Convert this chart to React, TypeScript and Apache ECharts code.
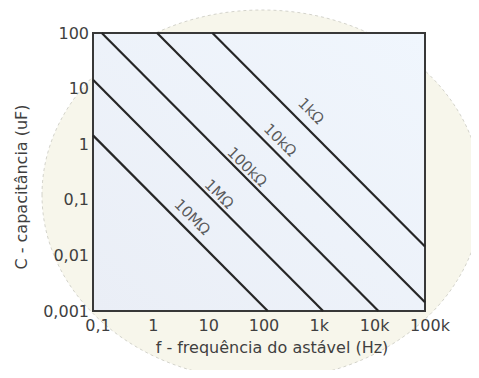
import React, { useEffect, useRef } from "react";
import * as echarts from "echarts";

// Axis tick labels (decades)
const xTickLabels = ["0,1", "1", "10", "100", "1k", "10k", "100k"];
const yTickLabels = ["0,001", "0,01", "0,1", "1", "10", "100"];

// Resistance lines: endpoints [frequency Hz, capacitance uF]
const line1k = [[14.4, 100], [100000, 0.0144]];
const line10k = [[1.44, 100], [100000, 0.00144]];
const line100k = [[0.144, 100], [14400, 0.001]];
const line1M = [[0.1, 14.4], [1440, 0.001]];
const line10M = [[0.1, 1.44], [144, 0.001]];

// Line labels: [frequency, capacitance, text]
const lineLabels = [
  [870, 3.95, "1kΩ"],
  [240, 1.19, "10kΩ"],
  [61, 0.39, "100kΩ"],
  [19, 0.127, "1MΩ"],
  [6.2, 0.049, "10MΩ"],
];

const FONT = "DejaVu Sans";

export default function App() {
  const ref = useRef<HTMLDivElement>(null);
  useEffect(() => {
    const chart = echarts.init(ref.current!, null, { renderer: "svg" });
    const lineStyle = { color: "#262626", width: 2.2 };
    const mkLine = (data: number[][]) => ({
      type: "line",
      data,
      symbol: "none",
      lineStyle,
      silent: true,
      z: 3,
    });
    chart.setOption({
      animation: false,
      backgroundColor: "#ffffff",
      graphic: [
        {
          type: "ellipse",
          z: -100,
          shape: { cx: 262, cy: 195, rx: 220, ry: 185 },
          style: { fill: "#f7f6eb", stroke: "#c9c9c0", lineWidth: 0.8, lineDash: [3, 3] },
          silent: true,
        },
      ],
      grid: {
        left: 93,
        top: 33,
        width: 332,
        height: 278,
        show: true,
        borderColor: "#383838",
        borderWidth: 2,
        backgroundColor: new echarts.graphic.LinearGradient(1, 0, 0, 1, [
          { offset: 0, color: "#f0f6fd" },
          { offset: 1, color: "#eaeef6" },
        ]),
      },
      xAxis: {
        type: "log",
        logBase: 10,
        min: 0.1,
        max: 100000,
        splitNumber: 6,
        name: "f - frequência do astável (Hz)",
        nameLocation: "middle",
        nameGap: 28,
        nameTextStyle: { fontFamily: FONT, fontSize: 16, color: "#3f3f3f", padding: [0, 0, 0, 26] },
        axisLine: { show: true, lineStyle: { color: "#383838", width: 2 } },
        axisTick: { show: false },
        splitLine: { show: false },
        minorTick: { show: false },
        axisLabel: {
          fontFamily: FONT,
          fontSize: 16,
          color: "#3f3f3f",
          margin: 6,
          padding: [0, 0, 0, 10],
          formatter: (v: number) => xTickLabels[Math.round(Math.log10(v)) + 1] ?? "",
        },
      },
      yAxis: {
        type: "log",
        logBase: 10,
        min: 0.001,
        max: 100,
        splitNumber: 5,
        name: "C - capacitância (uF)",
        nameLocation: "middle",
        nameGap: 64,
        nameTextStyle: { fontFamily: FONT, fontSize: 16, color: "#3f3f3f", padding: [0, 30, 0, 0] },
        axisLine: { show: true, lineStyle: { color: "#383838", width: 2 } },
        axisTick: { show: false },
        splitLine: { show: false },
        axisLabel: {
          fontFamily: FONT,
          fontSize: 16,
          color: "#3f3f3f",
          margin: 4,
          formatter: (v: number) => yTickLabels[Math.round(Math.log10(v)) + 3] ?? "",
        },
      },
      series: [
        mkLine(line1k),
        mkLine(line10k),
        mkLine(line100k),
        mkLine(line1M),
        mkLine(line10M),
        {
          type: "scatter",
          data: lineLabels,
          symbolSize: 0,
          silent: true,
          z: 4,
          label: {
            show: true,
            position: "inside",
            rotate: -45,
            fontFamily: FONT,
            fontSize: 15,
            color: "#333333",
            formatter: (p: any) => p.data[2],
          },
        },
      ],
    });
    return () => chart.dispose();
  }, []);
  return <div ref={ref} style={{ width: 479, height: 378, margin: -8 }} />;
}
